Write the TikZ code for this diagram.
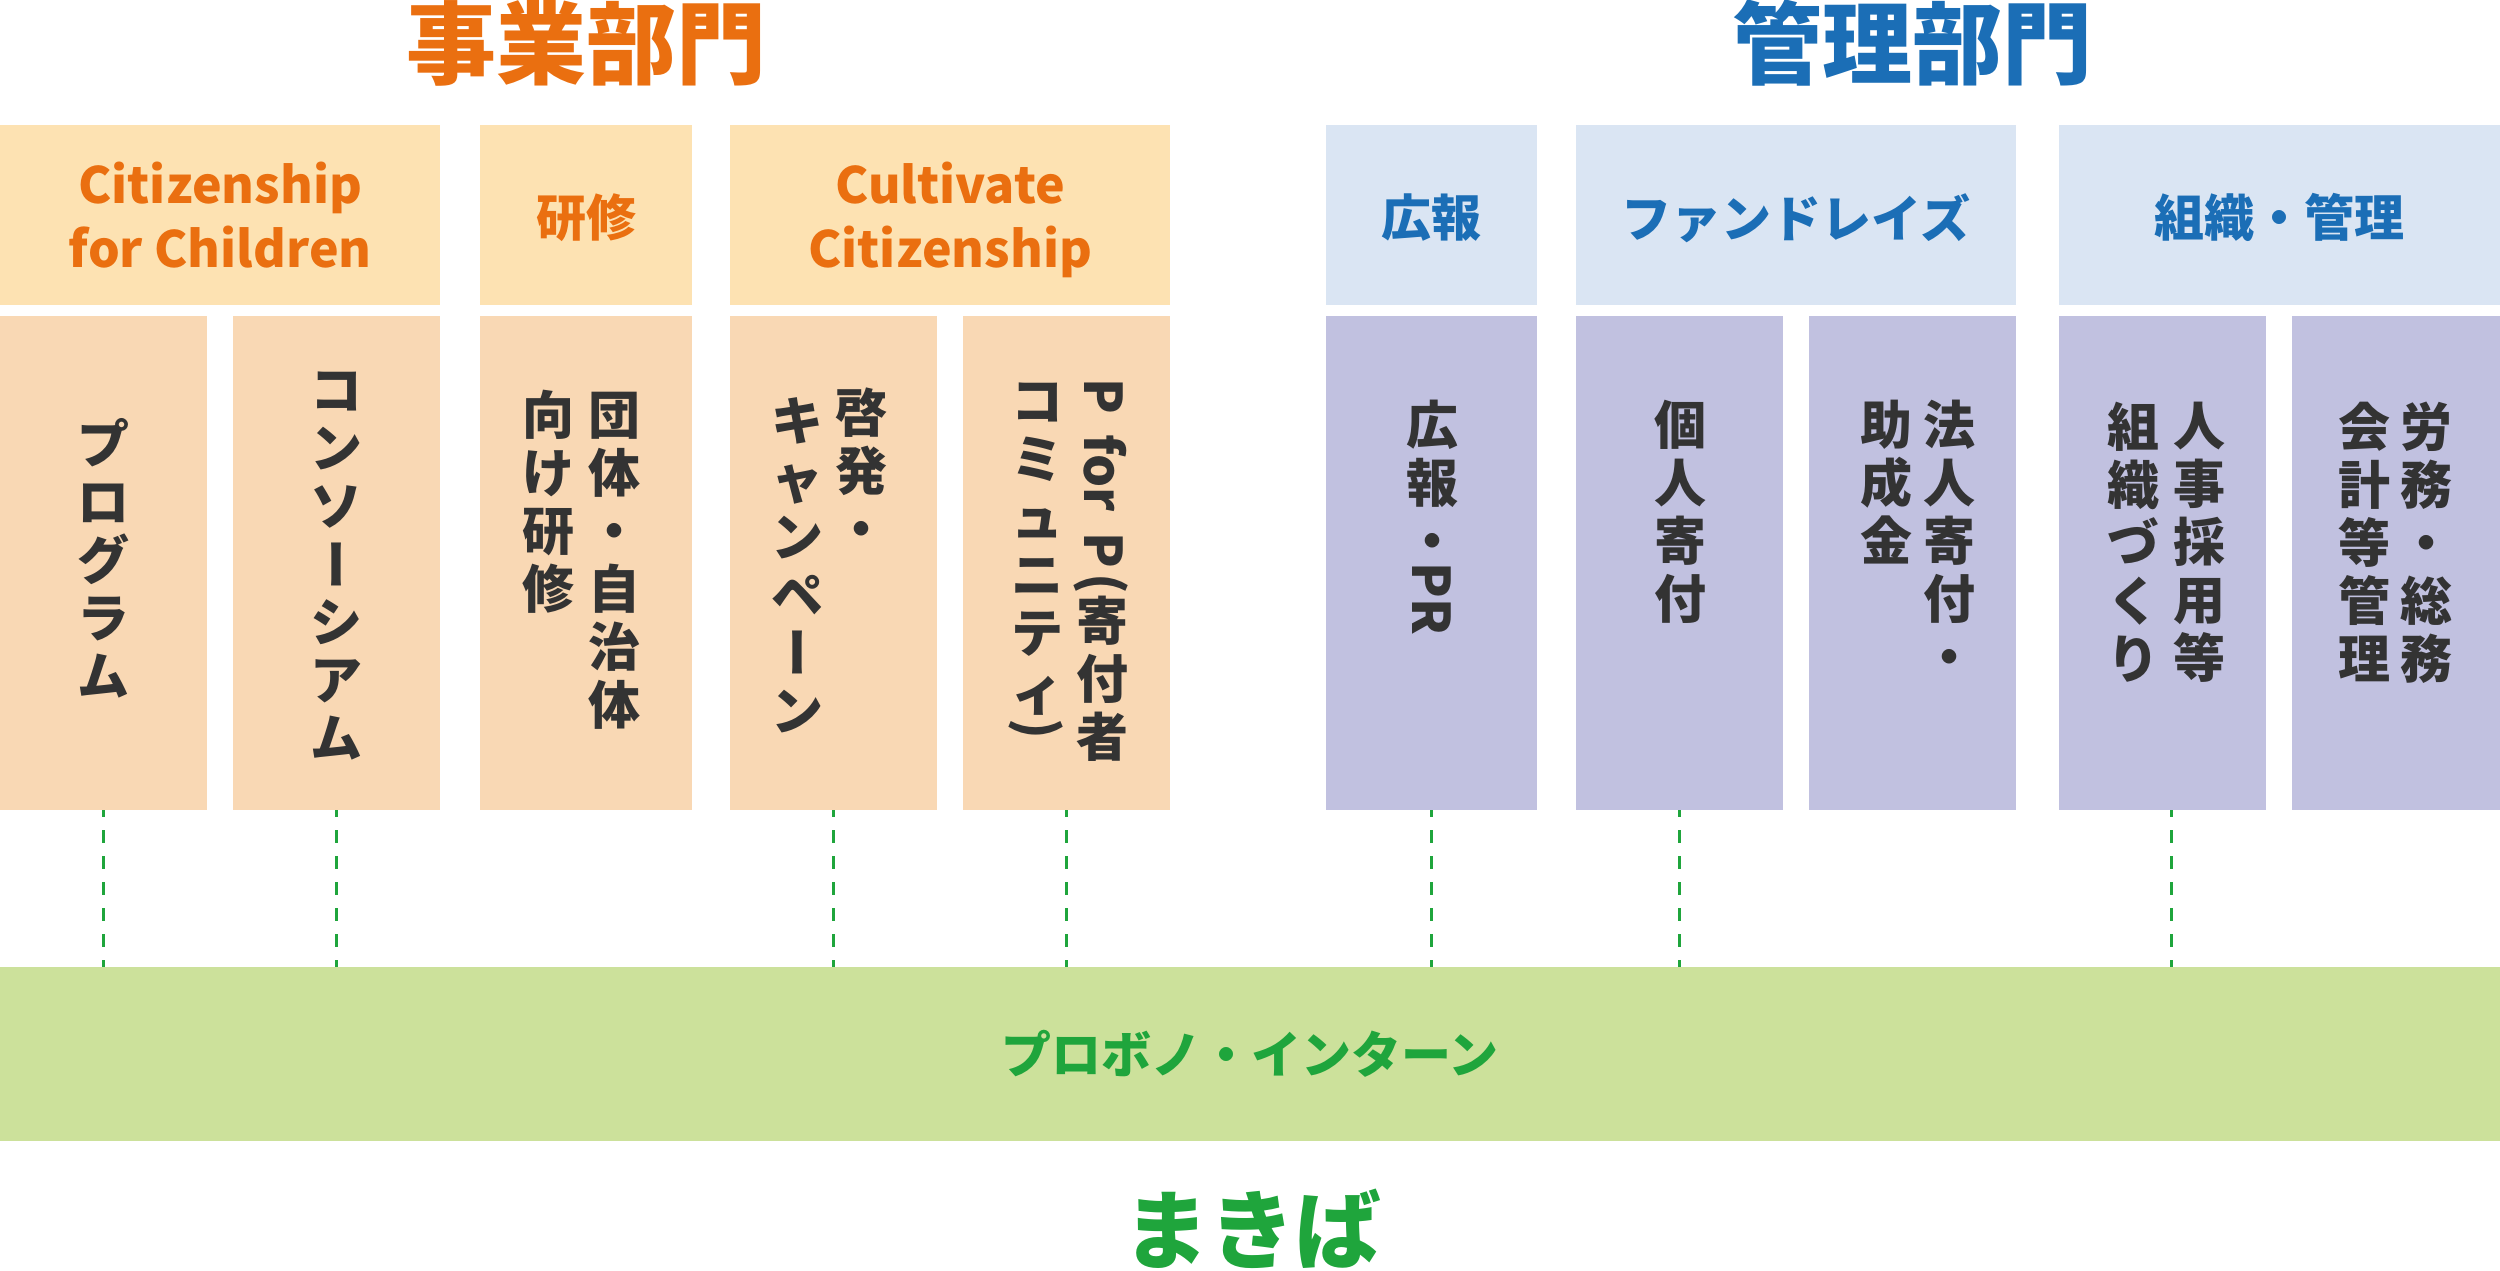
\documentclass[tikz,border=0pt]{standalone}
\usepackage{fontspec}
\usepackage{graphicx}
\newfontfamily\jp{Noto Sans CJK JP}
\usetikzlibrary{calc}
\definecolor{cTtlO}{HTML}{EA6F10}
\definecolor{cHdrO}{HTML}{FDE2B2}
\definecolor{cSubO}{HTML}{F9D8B4}
\definecolor{cTtlB}{HTML}{1B6EB6}
\definecolor{cHdrB}{HTML}{DAE5F3}
\definecolor{cSubB}{HTML}{C1C1E0}
\definecolor{cBand}{HTML}{CCE19B}
\definecolor{cTxtG}{HTML}{1FA53C}
\definecolor{cInk}{HTML}{333333}
\newcommand\rotv[1]{\rotatebox[origin=c]{-90}{\rule[-0.12em]{0pt}{1em}#1}}
\newcommand\vlong{\rotv{ー}}
\begin{document}
\begin{tikzpicture}[x=1pt,y=-1pt,
  ttl/.style={font=\jp\bfseries\fontsize{90}{100}\selectfont, inner sep=0pt},
  hdr/.style={anchor=north west, minimum height=180pt, inner sep=0pt, text depth=0pt,
    font=\jp\bfseries\fontsize{50}{64}\selectfont, align=center},
  hdrO/.style={hdr, fill=cHdrO, text=cTtlO},
  hdrB/.style={hdr, fill=cHdrB, text=cTtlB},
  col/.style={anchor=north west, minimum height=494pt, minimum width=207pt, inner sep=0pt},
  colO/.style={col, fill=cSubO},
  colB/.style={col, fill=cSubB},
  vt/.style={anchor=north, inner sep=0pt, align=center, text=cInk,
    font=\jp\bfseries\fontsize{52}{58}\selectfont},
  link/.style={draw=cTxtG, line width=3pt, dash pattern=on 13pt off 13pt, dash phase=6pt}
]
\useasboundingbox (0,0) rectangle (2500,1270);

% titles
\node[ttl, text=cTtlO] (t1) at (586,43) {事業部門};
\node[ttl, text=cTtlB] (t2) at (1912,43) {管理部門};

% header boxes
\node[hdrO, minimum width=440pt] (hA) at (0,125) {Citizenship\\for Children};
\node[hdrO, minimum width=212pt] (hB) at (480,125) {研修};
\node[hdrO, minimum width=440pt] (hC) at (730,125) {Cultivate\\Citizenship};
\node[hdrB, minimum width=211pt] (hD) at (1326,125) {広報};
\node[hdrB, minimum width=440pt] (hE) at (1576,125) {ファンドレイズ};
\node[hdrB, minimum width=441pt] (hF) at (2059,125) {組織・管理};

% sub boxes
\node[colO] (s1) at (0,316) {};
\node[colO] (s2) at (233,316) {};
\node[colO, minimum width=212pt] (s3) at (480,316) {};
\node[colO] (s4) at (730,316) {};
\node[colO] (s5) at (963,316) {};
\node[colB, minimum width=211pt] (s6) at (1326,316) {};
\node[colB] (s7) at (1576,316) {};
\node[colB] (s8) at (1809,316) {};
\node[colB] (s9) at (2059,316) {};
\node[colB, minimum width=208pt] (s10) at (2292,316) {};

% vertical texts
\node[vt] (v1) at (103.5,418) {プ\\ロ\\グ\\ラ\\ム};
\node[vt] (v2) at (336.5,372) {コ\\ン\\ソ\\\vlong\\シ\\ア\\ム};
\node[vt] (v3a) at (614,392) {団\\体\\・\\自\\治\\体};
\node[vt] (v3b) at (548,390) {向\\け\\研\\修};
\node[vt] (v4a) at (861,388) {啓\\発\\・};
\node[vt] (v4b) at (797,397) {キ\\ャ\\ン\\ペ\\\vlong\\ン};
\node[vt] (v5a) at (1102,378) {\rotv{P\hspace{0.4em}for\hspace{0.4em}P\hspace{0.1em}(}\\寄\\付\\者};
\node[vt] (v5b) at (1037,383) {コ\\ミ\\ュ\\ニ\\テ\\ィ\\[-22pt]\rotv{)}};
\node[vt] (v6) at (1432,400) {広\\報\\・\\\rotv{PR}};
\node[vt] (v7) at (1680,400) {個\\人\\寄\\付};
\node[vt] (v8a) at (1949,400) {法\\人\\寄\\付\\・};
\node[vt] (v8b) at (1886,400) {助\\成\\金};
\node[vt] (v9a) at (2199,402) {人\\事\\採\\用\\等};
\node[vt] (v9b) at (2133,402) {組\\織\\づ\\く\\り};
\node[vt] (v10a) at (2426,402) {労\\務\\・\\総\\務};
\node[vt] (v10b) at (2364,402) {会\\計\\等\\管\\理};

% green band
\node[anchor=north west, fill=cBand, minimum width=2500pt, minimum height=174pt,
  inner sep=0pt, text=cTxtG, font=\jp\bfseries\fontsize{50}{60}\selectfont]
  (band) at (0,967) {プロボノ・インターン};

% dashed links
\foreach \s in {s1,s2,s4,s5,s6,s7}
  \draw[link] (\s.south) -- (\s.south |- band.north);
\draw[link] ([xshift=9pt]s9.south) -- ([xshift=9pt]s9.south |- band.north);

\node[ttl, text=cTxtG, font=\jp\bfseries\fontsize{86}{96}\selectfont] (mk) at (1252,1229) {まきば};
\end{tikzpicture}
\end{document}
